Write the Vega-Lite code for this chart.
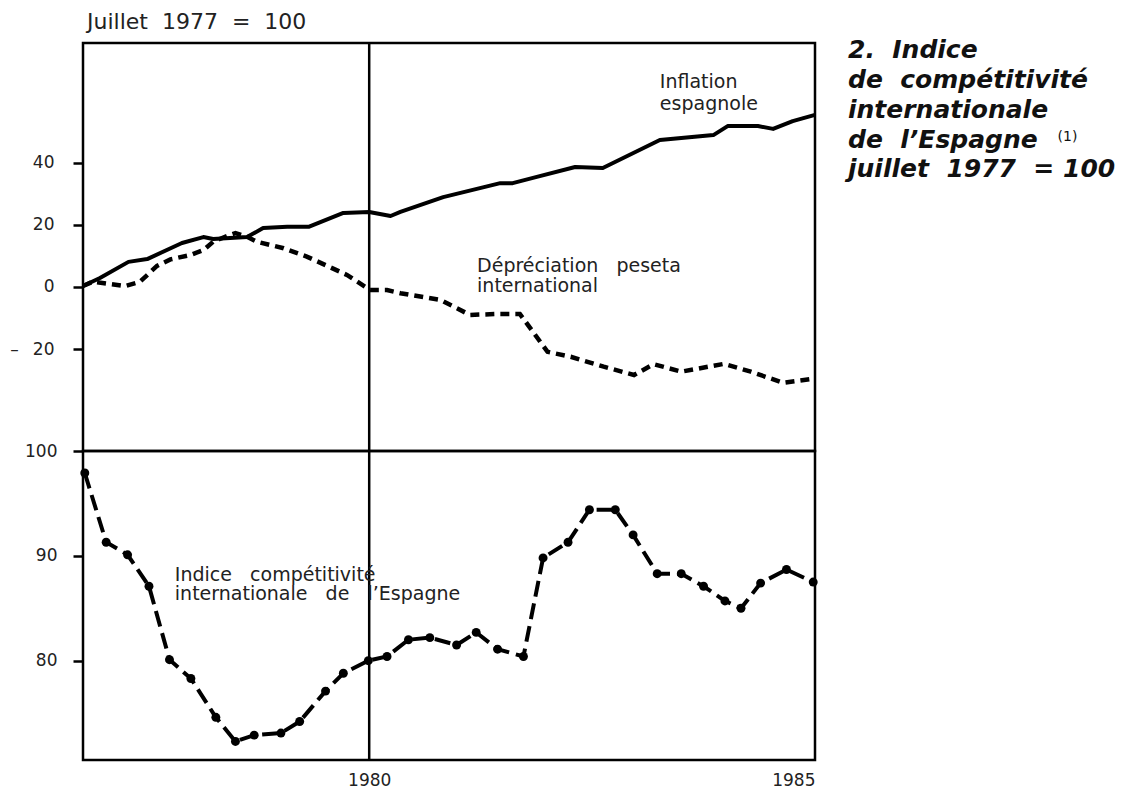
{
  "$schema": "https://vega.github.io/schema/vega-lite/v6.json",
  "background": "white",
  "padding": {"left": 8, "top": 9, "right": 5, "bottom": 5},
  "spacing": 0,
  "bounds": "flush",
  "config": {
    "view": {"stroke": "black", "strokeWidth": 2.5},
    "font": "DejaVu Sans",
    "axis": {"grid": false, "domain": false, "labelFont": "DejaVu Sans", "labelFontSize": 17, "labelColor": "#222", "tickColor": "black", "tickWidth": 2.5, "tickSize": 10, "title": null}
  },
  "datasets": {
    "infl": [
      {"year": 1976.79, "value": 0.3}, {"year": 1976.98, "value": 2.9}, {"year": 1977.30, "value": 8.1},
      {"year": 1977.51, "value": 9.0}, {"year": 1977.90, "value": 14.2}, {"year": 1978.14, "value": 16.1},
      {"year": 1978.25, "value": 15.5}, {"year": 1978.63, "value": 16.1}, {"year": 1978.81, "value": 19.0},
      {"year": 1979.08, "value": 19.4}, {"year": 1979.32, "value": 19.4}, {"year": 1979.71, "value": 23.9},
      {"year": 1980.00, "value": 24.2}, {"year": 1980.24, "value": 22.9}, {"year": 1980.35, "value": 24.2},
      {"year": 1980.83, "value": 29.0}, {"year": 1981.47, "value": 33.5}, {"year": 1981.61, "value": 33.5},
      {"year": 1981.88, "value": 35.5}, {"year": 1982.31, "value": 38.7}, {"year": 1982.62, "value": 38.4},
      {"year": 1983.26, "value": 47.4}, {"year": 1983.86, "value": 49.0}, {"year": 1984.02, "value": 51.9},
      {"year": 1984.36, "value": 51.9}, {"year": 1984.53, "value": 51.0}, {"year": 1984.75, "value": 53.5},
      {"year": 1985.00, "value": 55.5}
    ],
    "dep": [
      {"year": 1976.79, "value": 0.3}, {"year": 1976.90, "value": 1.7}, {"year": 1977.09, "value": 1.0},
      {"year": 1977.26, "value": 0.3}, {"year": 1977.43, "value": 1.7}, {"year": 1977.62, "value": 6.8},
      {"year": 1977.77, "value": 8.9}, {"year": 1977.99, "value": 10.3}, {"year": 1978.14, "value": 11.9},
      {"year": 1978.25, "value": 14.6}, {"year": 1978.41, "value": 16.5}, {"year": 1978.50, "value": 17.4},
      {"year": 1978.63, "value": 16.2}, {"year": 1978.74, "value": 14.6}, {"year": 1979.04, "value": 12.5},
      {"year": 1979.30, "value": 9.8}, {"year": 1979.53, "value": 6.8}, {"year": 1979.75, "value": 3.9},
      {"year": 1980.01, "value": -1.0}, {"year": 1980.20, "value": -1.0}, {"year": 1980.35, "value": -2.0},
      {"year": 1980.80, "value": -4.2}, {"year": 1981.13, "value": -9.0}, {"year": 1981.44, "value": -8.7},
      {"year": 1981.69, "value": -8.7}, {"year": 1982.00, "value": -20.9}, {"year": 1982.26, "value": -22.5},
      {"year": 1982.63, "value": -25.7}, {"year": 1982.97, "value": -28.4}, {"year": 1983.19, "value": -24.9},
      {"year": 1983.50, "value": -27.3}, {"year": 1983.98, "value": -24.8}, {"year": 1984.28, "value": -27.3},
      {"year": 1984.64, "value": -30.9}, {"year": 1985.00, "value": -29.5}
    ],
    "comp": [
      {"year": 1976.81, "value": 97.9}, {"year": 1977.05, "value": 91.3}, {"year": 1977.29, "value": 90.1},
      {"year": 1977.53, "value": 87.1}, {"year": 1977.76, "value": 80.1}, {"year": 1978.00, "value": 78.3},
      {"year": 1978.28, "value": 74.6}, {"year": 1978.50, "value": 72.3}, {"year": 1978.71, "value": 72.9},
      {"year": 1979.01, "value": 73.1}, {"year": 1979.22, "value": 74.2}, {"year": 1979.51, "value": 77.1},
      {"year": 1979.71, "value": 78.8}, {"year": 1979.99, "value": 80.0}, {"year": 1980.20, "value": 80.4},
      {"year": 1980.44, "value": 82.0}, {"year": 1980.68, "value": 82.2}, {"year": 1980.98, "value": 81.5},
      {"year": 1981.20, "value": 82.7}, {"year": 1981.44, "value": 81.1}, {"year": 1981.73, "value": 80.4},
      {"year": 1981.95, "value": 89.8}, {"year": 1982.23, "value": 91.3}, {"year": 1982.47, "value": 94.4},
      {"year": 1982.76, "value": 94.4}, {"year": 1982.96, "value": 92.0}, {"year": 1983.23, "value": 88.3},
      {"year": 1983.50, "value": 88.3}, {"year": 1983.75, "value": 87.1}, {"year": 1983.99, "value": 85.7},
      {"year": 1984.17, "value": 85.0}, {"year": 1984.39, "value": 87.4}, {"year": 1984.68, "value": 88.7},
      {"year": 1984.98, "value": 87.5}
    ],
    "mark1980": [{"year": 1980}],
    "notesTop": [
      {"year": 1983.26, "value": 64.2, "label": "Inflation"},
      {"year": 1983.26, "value": 57.1, "label": "espagnole"},
      {"year": 1981.21, "value": 4.8, "label": "Dépréciation\u00a0\u00a0\u00a0peseta"},
      {"year": 1981.21, "value": -1.6, "label": "international"}
    ],
    "titleBlock": [
      {"year": 1985.37, "value": 73.9, "label": "2.\u00a0\u00a0Indice"},
      {"year": 1985.37, "value": 64.2, "label": "de\u00a0\u00a0compétitivité"},
      {"year": 1985.37, "value": 54.5, "label": "internationale"},
      {"year": 1985.37, "value": 44.8, "label": "de\u00a0\u00a0l’Espagne"},
      {"year": 1985.37, "value": 35.5, "label": "juillet\u00a0\u00a01977\u00a0\u00a0=\u00a0100"}
    ],
    "sup": [{"year": 1987.72, "value": 47.0, "label": "(1)"}],
    "notesBottom": [
      {"year": 1977.82, "value": 87.6, "label": "Indice\u00a0\u00a0\u00a0compétitivité"},
      {"year": 1977.82, "value": 85.8, "label": "internationale\u00a0\u00a0\u00a0de\u00a0\u00a0\u00a0l’Espagne"}
    ]
  },
  "resolve": {"scale": {"x": "independent", "y": "independent"}},
  "vconcat": [
    {
      "width": 732,
      "height": 408,
      "title": {"text": "Juillet\u00a0\u00a01977\u00a0\u00a0=\u00a0\u00a0100", "anchor": "start", "frame": "group", "fontSize": 22, "fontWeight": "normal", "font": "DejaVu Sans", "color": "#222", "baseline": "alphabetic", "offset": -13, "dx": 4},
      "layer": [
        {
          "data": {"name": "infl"},
          "mark": {"type": "line", "color": "black", "strokeWidth": 4, "strokeJoin": "round"},
          "encoding": {
            "x": {"field": "year", "type": "quantitative", "scale": {"domain": [1976.79, 1985], "nice": false, "zero": false}, "axis": null},
            "y": {"field": "value", "type": "quantitative", "scale": {"domain": [-52.9, 78.7], "nice": false, "zero": false},
                  "axis": {"values": [-20, 0, 20, 40], "labelPadding": 19, "labelExpr": "datum.value < 0 ? '–\u00a0\u00a0\u2009' + (-datum.value) : datum.label"}}
          }
        },
        {
          "data": {"name": "dep"},
          "mark": {"type": "line", "color": "black", "strokeWidth": 4.5, "strokeDash": [9, 6]},
          "encoding": {
            "x": {"field": "year", "type": "quantitative"},
            "y": {"field": "value", "type": "quantitative"}
          }
        },
        {
          "data": {"name": "mark1980"},
          "mark": {"type": "rule", "color": "black", "strokeWidth": 2.5},
          "encoding": {"x": {"field": "year", "type": "quantitative"}}
        },
        {
          "data": {"name": "notesTop"},
          "mark": {"type": "text", "align": "left", "baseline": "alphabetic", "font": "DejaVu Sans", "fontSize": 19, "color": "#222"},
          "encoding": {
            "x": {"field": "year", "type": "quantitative"},
            "y": {"field": "value", "type": "quantitative"},
            "text": {"field": "label"}
          }
        },
        {
          "data": {"name": "titleBlock"},
          "mark": {"type": "text", "align": "left", "baseline": "alphabetic", "font": "DejaVu Sans", "fontSize": 25, "fontStyle": "italic", "fontWeight": "bold", "color": "#111"},
          "encoding": {
            "x": {"field": "year", "type": "quantitative"},
            "y": {"field": "value", "type": "quantitative"},
            "text": {"field": "label"}
          }
        },
        {
          "data": {"name": "sup"},
          "mark": {"type": "text", "align": "left", "baseline": "alphabetic", "font": "DejaVu Sans", "fontSize": 14, "color": "#111"},
          "encoding": {
            "x": {"field": "year", "type": "quantitative"},
            "y": {"field": "value", "type": "quantitative"},
            "text": {"field": "label"}
          }
        }
      ]
    },
    {
      "width": 732,
      "height": 309,
      "layer": [
        {
          "data": {"name": "comp"},
          "mark": {"type": "line", "color": "black", "strokeWidth": 4, "strokeDash": [16, 7]},
          "encoding": {
            "x": {"field": "year", "type": "quantitative", "scale": {"domain": [1976.79, 1985], "nice": false, "zero": false},
                  "axis": {"values": [1980, 1985], "format": "d", "ticks": false, "labelPadding": 12,
                           "labelAlign": {"condition": {"test": "datum.value == 1985", "value": "right"}, "value": "center"}}},
            "y": {"field": "value", "type": "quantitative", "scale": {"domain": [70.53, 100], "nice": false, "zero": false},
                  "axis": {"values": [80, 90, 100], "labelPadding": 16}}
          }
        },
        {
          "data": {"name": "comp"},
          "mark": {"type": "point", "filled": true, "color": "black", "opacity": 1, "size": 80},
          "encoding": {
            "x": {"field": "year", "type": "quantitative"},
            "y": {"field": "value", "type": "quantitative"}
          }
        },
        {
          "data": {"name": "mark1980"},
          "mark": {"type": "rule", "color": "black", "strokeWidth": 2.5},
          "encoding": {"x": {"field": "year", "type": "quantitative"}}
        },
        {
          "data": {"name": "notesBottom"},
          "mark": {"type": "text", "align": "left", "baseline": "alphabetic", "font": "DejaVu Sans", "fontSize": 19, "color": "#222"},
          "encoding": {
            "x": {"field": "year", "type": "quantitative"},
            "y": {"field": "value", "type": "quantitative"},
            "text": {"field": "label"}
          }
        }
      ]
    }
  ]
}
